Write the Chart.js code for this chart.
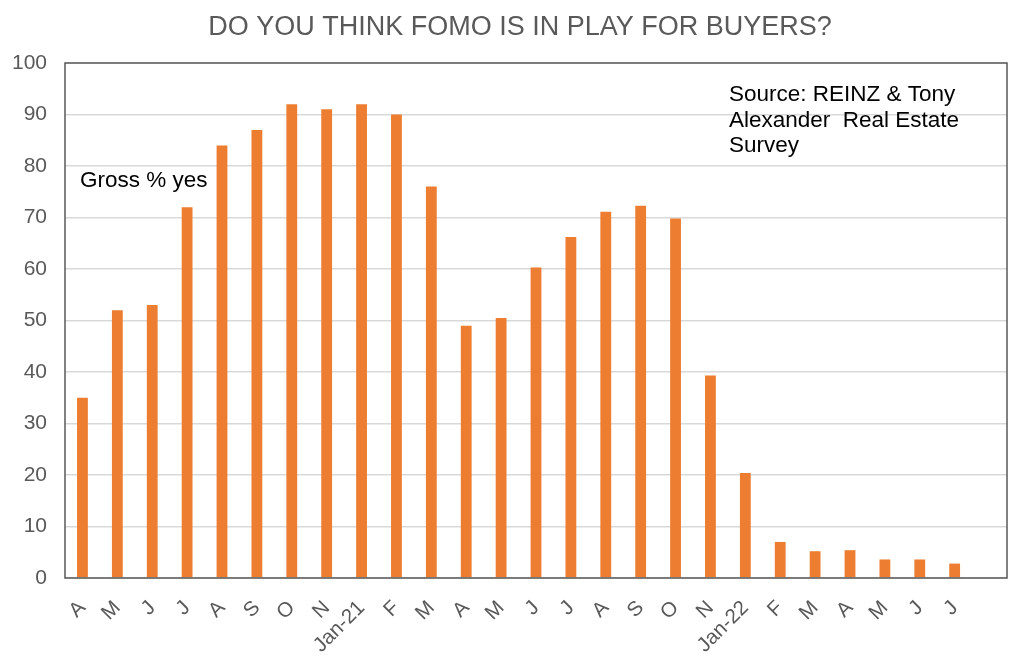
<!DOCTYPE html>
<html>
<head>
<meta charset="utf-8">
<title>FOMO survey</title>
<script src="https://cdn.jsdelivr.net/npm/chart.js@4"></script>
<style>
  html, body { margin: 0; padding: 0; background: #fff; }
  #wrap { width: 1024px; height: 668px; position: relative; }
</style>
</head>
<body>
<div id="wrap"><canvas id="Chart"></canvas></div>
<script>
// months Apr-20 .. Jul-22, plus one empty slot at the end like the original
const months = ["A", "M", "J", "J", "A", "S", "O", "N", "Jan-21", "F", "M", "A", "M",
  "J", "J", "A", "S", "O", "N", "Jan-22", "F", "M", "A", "M", "J", "J", ""];
const grossYes = [35, 52, 53, 72, 84, 87, 92, 91, 92, 90, 76, 49, 50.5,
  60.3, 66.2, 71.1, 72.3, 69.8, 39.3, 20.4, 7, 5.2, 5.4, 3.6, 3.6, 2.8, null];
const yTicks = [0, 10, 20, 30, 40, 50, 60, 70, 80, 90, 100];

const chartTitle = "DO YOU THINK FOMO IS IN PLAY FOR BUYERS?";
const seriesNote = "Gross % yes";
const sourceNote = ["Source: REINZ & Tony", "Alexander  Real Estate", "Survey"];

Chart.defaults.font.family = "'Liberation Sans', Arial, sans-serif";

// frame round the plot area plus the text boxes
const textAndFrame = {
  id: 'textAndFrame',
  afterDraw(chart) {
    const { ctx, chartArea: a } = chart;
    ctx.save();
    ctx.strokeStyle = '#595959';
    ctx.lineWidth = 1.5;
    ctx.strokeRect(a.left, a.top, a.right - a.left, a.bottom - a.top);

    ctx.textBaseline = 'middle';
    ctx.fillStyle = '#595959';
    ctx.font = "27px 'Liberation Sans', Arial, sans-serif";
    ctx.textAlign = 'center';
    ctx.fillText(chartTitle, 520, 28);

    ctx.fillStyle = '#000';
    ctx.font = "22.5px 'Liberation Sans', Arial, sans-serif";
    ctx.textAlign = 'left';
    ctx.fillText(seriesNote, 80, 181);
    sourceNote.forEach((line, i) => ctx.fillText(line, 729, 95 + i * 25.5));
    ctx.restore();
  }
};

const data = {
  labels: months,
  datasets: [{
    label: 'Gross % yes',
    data: grossYes,
    backgroundColor: '#ED7D31',
    borderWidth: 0,
    categoryPercentage: 1,
    barPercentage: 0.31,
  }]
};

const config = {
  type: 'bar',
  data: data,
  options: {
    responsive: true,
    maintainAspectRatio: false,
    animation: false,
    layout: { padding: { top: 63, right: 17, left: 0, bottom: 0 } },
    plugins: {
      legend: { display: false },
      title: { display: false },
      tooltip: { enabled: false }
    },
    scales: {
      x: {
        grid: { display: false },
        border: { display: false },
        ticks: {
          color: '#595959',
          font: { size: 20.5 },
          autoSkip: false,
          maxRotation: 45,
          minRotation: 45,
          padding: 10
        },
        afterFit(scale) { scale.height = 90; }
      },
      y: {
        min: 0,
        max: 100,
        afterBuildTicks(scale) { scale.ticks = yTicks.map(v => ({ value: v })); },
        grid: { color: '#d9d9d9', lineWidth: 1.5, drawTicks: false },
        border: { display: false },
        ticks: {
          color: '#595959',
          font: { size: 21 },
          padding: 18
        },
        afterFit(scale) { scale.width = 65; }
      }
    }
  },
  plugins: [textAndFrame]
};

window.addEventListener('load', () => {
  const ctx = document.getElementById('Chart');
  new Chart(ctx, config);
});
</script>
</body>
</html>
